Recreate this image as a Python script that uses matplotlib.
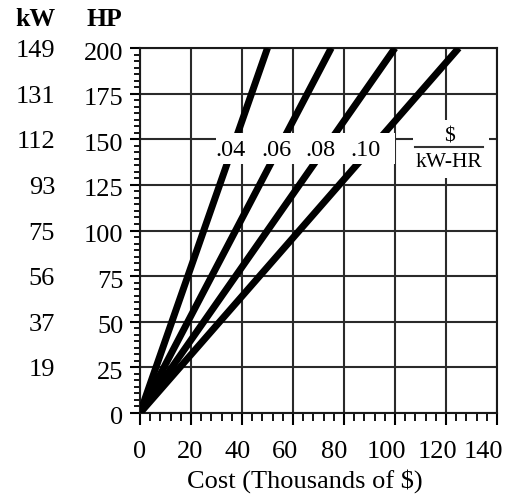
import matplotlib
matplotlib.use('Agg')
import matplotlib.pyplot as plt
from matplotlib.ticker import MultipleLocator
from matplotlib.patches import Rectangle
from matplotlib.transforms import ScaledTranslation

plt.rcParams['font.family'] = ['Liberation Serif', 'DejaVu Serif']

# chart data
rates = [0.04, 0.06, 0.08, 0.10]          # $ per kW-HR
rate_labels = ['.04', '.06', '.08', '.10']
cost_at_top = [50, 75, 100, 125]          # cost (k$) where each line reaches 200 HP
hp_top = 200
hp_ticks = [0, 25, 50, 75, 100, 125, 150, 175, 200]
kw_labels = ['', '19', '37', '56', '75', '93', '112', '131', '149']
cost_ticks = [0, 20, 40, 60, 80, 100, 120, 140]

fig = plt.figure(figsize=(5.12, 5.0), dpi=100)
ax = fig.add_axes([140/512, 1-413/500, 357/512, 365/500])

for c in cost_at_top:
    ax.plot([0, c], [0, hp_top], color='black', lw=5, solid_capstyle='butt', zorder=3)

ax.set_xlim(0, 140)
ax.set_ylim(0, 200)
ax.set_xticks(cost_ticks)
ax.set_yticks(hp_ticks)
ax.xaxis.set_minor_locator(MultipleLocator(4))
ax.yaxis.set_minor_locator(MultipleLocator(25/7))
ax.grid(True, which='major', color='#2a2a2a', lw=1.5, zorder=1)
ax.set_axisbelow(True)
for s in ax.spines.values():
    s.set_linewidth(1.5)
    s.set_color('#1a1a1a')

ax.tick_params(axis='x', which='major', direction='out', length=8.5, width=1.5, pad=12, labelsize=19)
ax.tick_params(axis='x', which='minor', direction='out', length=5.5, width=1.3)
ax.tick_params(axis='y', which='major', direction='out', length=7, width=1.5, pad=5, labelsize=19)
ax.tick_params(axis='y', which='minor', direction='out', length=4.5, width=1.3)

# the hand-set tick labels drift a little left of the grid lines
x_shift_px = [0, -1, -4, -8, -10, -9, -9, -14]
for lab, dx in zip(ax.get_xticklabels(), x_shift_px):
    lab.set_transform(lab.get_transform() + ScaledTranslation(dx/100, 0, fig.dpi_scale_trans))
for lab in ax.get_yticklabels():
    lab.set_transform(lab.get_transform() + ScaledTranslation(0, -3/100, fig.dpi_scale_trans))

ax.set_xlabel('Cost (Thousands of \\$)', fontsize=19, labelpad=4, x=0.462)

# kW scale beside HP ticks
kw_trans = ax.get_yaxis_transform() + ScaledTranslation(0, -3/100, fig.dpi_scale_trans)
for hp, kw in zip(hp_ticks, kw_labels):
    ax.text(-0.238, hp, kw, transform=kw_trans, ha='right', va='center', fontsize=19)

fig.text(35/512, 1-19/500, 'kW', ha='center', va='center', fontsize=18.5, fontweight='bold')
fig.text(104/512, 1-19/500, 'HP', ha='center', va='center', fontsize=18.5, fontweight='bold')

# rate labels sit on one white strip that breaks the lines and grid
ax.add_patch(Rectangle((29.8, 136.5), 70.2, 17, facecolor='white', edgecolor='none', zorder=4))
label_x = [35.3, 53.7, 70.6, 88.6]
for lx, lab in zip(label_x, rate_labels):
    ax.text(lx, 144, lab, ha='center', va='center', fontsize=17.5, zorder=5)

# units label: $ over kW-HR on a white patch
ax.add_patch(Rectangle((107, 129), 30, 31.5, facecolor='white', edgecolor='none', zorder=4))
ax.text(121.2, 151.5, '\\$', ha='center', va='center', fontsize=15.5, zorder=5)
ax.text(121.2, 137.5, 'kW-HR', ha='center', va='center', fontsize=15.5, zorder=5)
ax.plot([107.8, 134.5], [146, 146], color='#333333', lw=1.5, zorder=5)

fig.savefig('out.png', dpi=100)
